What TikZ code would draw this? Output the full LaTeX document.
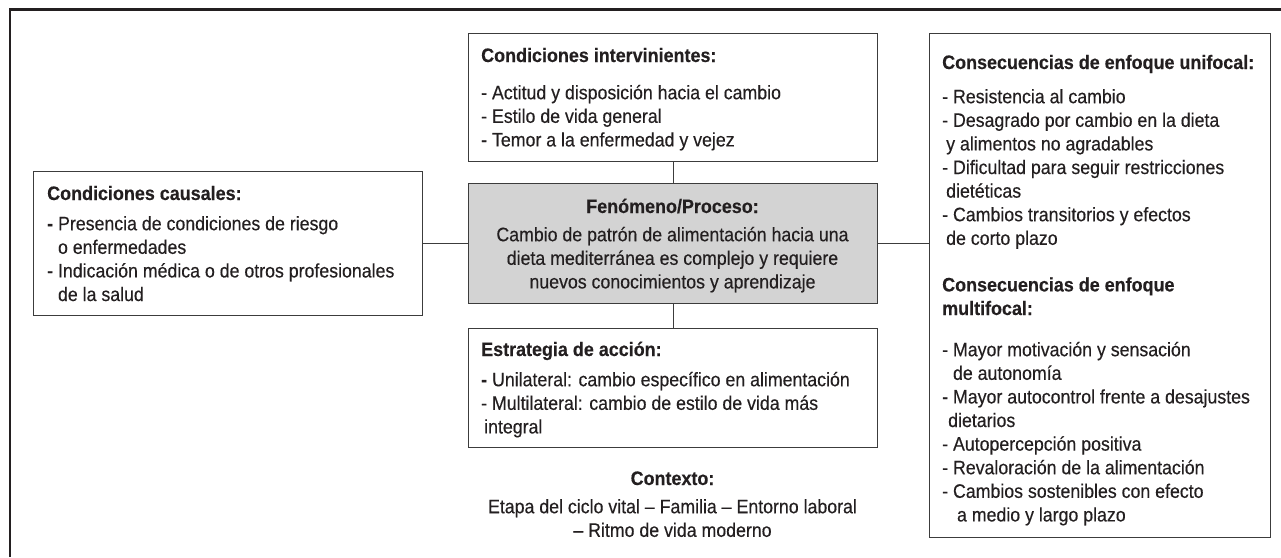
\documentclass[tikz,border=0pt]{standalone}
\usepackage{fontspec}
\setmainfont{Liberation Sans}[FakeStretch=0.91, UprightFeatures={FakeBold=0.35}, BoldFeatures={FakeStretch=0.92, FakeBold=0.3}]
\definecolor{ink}{HTML}{231F20}
\definecolor{edge}{HTML}{3C3C3C}
\definecolor{shade}{HTML}{D3D3D3}
\tikzset{
  box/.style={draw=edge, line width=1.2pt, inner sep=0pt, anchor=north west},
  conn/.style={draw=edge, line width=1.1pt},
  ttl/.style={inner sep=0pt, anchor=base west, text=ink, font=\fontsize{19.5}{23.6}\selectfont\bfseries},
  body/.style={inner sep=0pt, anchor=north west, text=ink, align=left, font=\fontsize{19.5}{23.6}\selectfont},
}
\begin{document}
\begin{tikzpicture}[x=1pt,y=-1pt]
\useasboundingbox (0,0) rectangle (1281,557);
% outer frame (top and left sides only)
\draw[ink, line width=2.6pt] (10,557) -- (10,9.5) -- (1281,9.5);

% boxes
\node[box, minimum width=409pt, minimum height=128pt] (inter) at (468,33) {};
\node[box, fill=shade, minimum width=409pt, minimum height=120pt] (fen) at (468,183) {};
\node[box, minimum width=409pt, minimum height=119pt] (estr) at (468,328) {};
\node[box, minimum width=389pt, minimum height=144pt] (caus) at (33,171) {};
\node[box, minimum width=341pt, minimum height=504pt] (cons) at (929,33) {};

% connectors
\draw[conn] (inter.south) -- (fen.north);
\draw[conn] (fen.south) -- (estr.north);
\draw[conn] (caus.east) -- (caus.east -| fen.west);
\draw[conn] (fen.east) -- (fen.east -| cons.west);

% Condiciones causales
\node[ttl] (caust) at (47,200) {Condiciones causales:};
\node[body] (causb) at (47,213.5) {\strut{\bfseries -} Presencia de condiciones de riesgo\\
\phantom{- }o enfermedades\\
- Indicación médica o de otros profesionales\\
\phantom{- }de la salud};

% Condiciones intervinientes
\node[ttl] (intert) at (481,62) {Condiciones intervinientes:};
\node[body] (interb) at (481,82.5) {\strut- Actitud y disposición hacia el cambio\\
- Estilo de vida general\\
- Temor a la enfermedad y vejez};

% Fenomeno
\node[ttl, anchor=base] (fent) at (672.5,213) {Fenómeno/Proceso:};
\node[body, anchor=north, align=center] (fenb) at (672.5,224.5) {\strut Cambio de patrón de alimentación hacia una\\
dieta mediterránea es complejo y requiere\\
nuevos conocimientos y aprendizaje};

% Estrategia
\node[ttl] (estrt) at (481,356) {Estrategia de acción:};
\node[body] (estrb) at (481,369.5) {\strut{\bfseries -} Unilateral: cambio específico en alimentación\\
- Multilateral: cambio de estilo de vida más\\
\hspace*{3pt}integral};

% Contexto
\node[ttl, anchor=base] (ctxt) at (672.5,485) {Contexto:};
\node[body, anchor=north, align=center] (ctxb) at (672.5,496.5) {\strut Etapa del ciclo vital – Familia – Entorno laboral\\
– Ritmo de vida moderno};

% Consecuencias
\node[ttl] (uniT) at (942,69) {Consecuencias de enfoque unifocal:};
\node[body] (unib) at (942,86.5) {\strut- Resistencia al cambio\\
- Desagrado por cambio en la dieta\\
\hspace*{4pt}y alimentos no agradables\\
- Dificultad para seguir restricciones\\
\hspace*{4pt}dietéticas\\
- Cambios transitorios y efectos\\
\hspace*{4pt}de corto plazo};
\node[ttl, align=left] (multT) at (942,315) {Consecuencias de enfoque\\multifocal:};
\node[body] (multb) at (942,339.5) {\strut- Mayor motivación y sensación\\
\phantom{- }de autonomía\\
- Mayor autocontrol frente a desajustes\\
\hspace*{6pt}dietarios\\
- Autopercepción positiva\\
- Revaloración de la alimentación\\
- Cambios sostenibles con efecto\\
\phantom{- }\hspace*{4pt}a medio y largo plazo};
\end{tikzpicture}
\end{document}
